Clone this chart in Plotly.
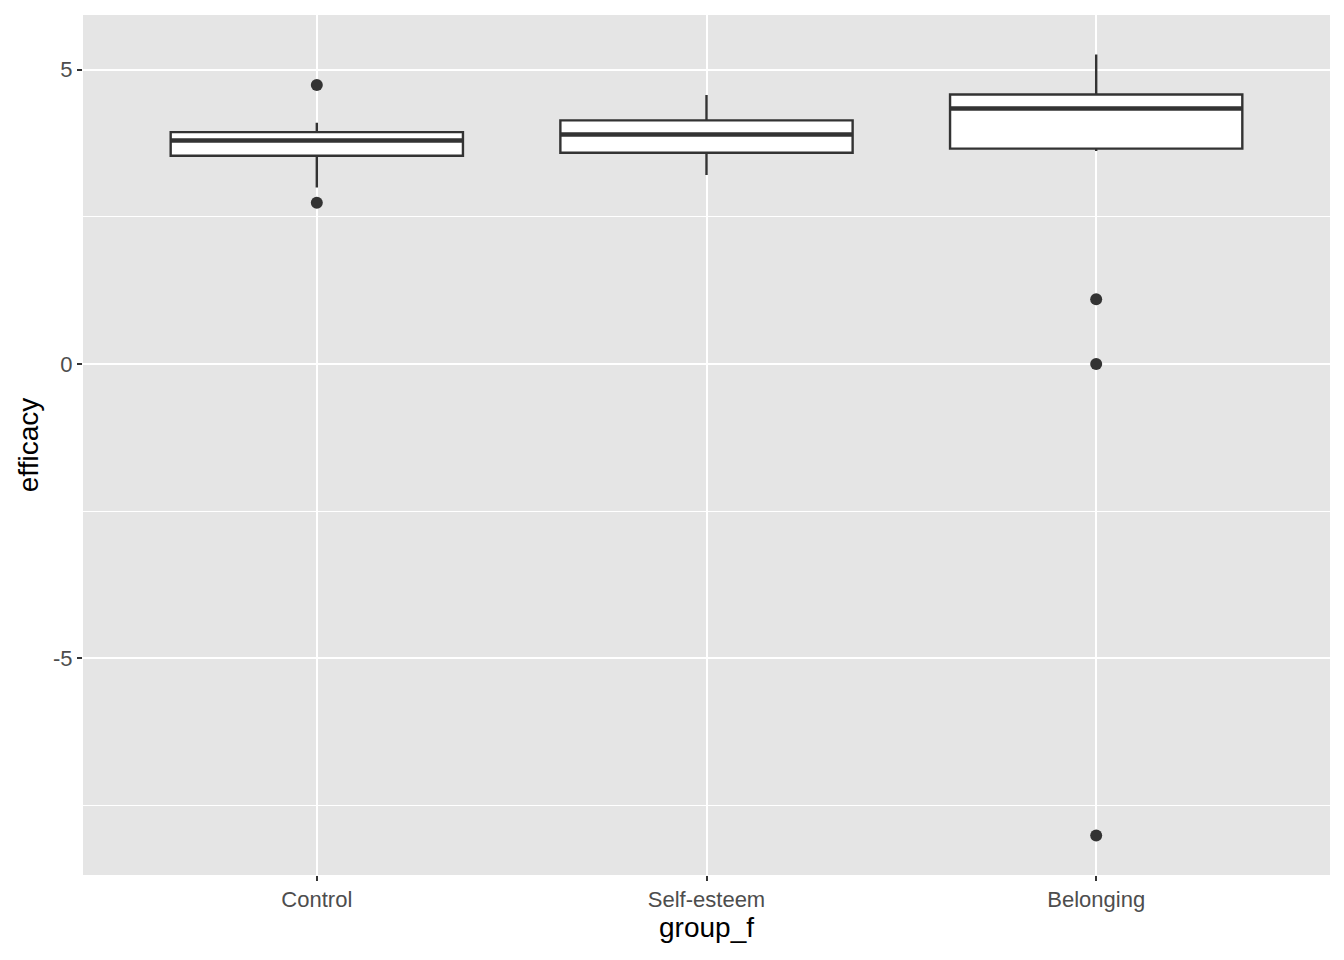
import plotly.graph_objects as go

groups = ["Control", "Self-esteem", "Belonging"]
q1 = [3.54, 3.59, 3.66]
median = [3.80, 3.90, 4.34]
q3 = [3.94, 4.14, 4.58]
lower = [3.00, 3.21, 3.62]
upper = [4.10, 4.57, 5.26]

out_x = ["Control", "Control", "Belonging", "Belonging", "Belonging"]
out_y = [4.74, 2.74, 1.10, 0.0, -8.01]

fig = go.Figure()

fig.add_trace(go.Box(
    x=groups, q1=q1, median=median, q3=q3,
    lowerfence=lower, upperfence=upper,
    width=0.75, whiskerwidth=0, fillcolor="white",
    line=dict(color="#333333", width=2.4),
    boxpoints=False, showlegend=False,
))
# thicker median bar, like ggplot's fatten
fig.add_trace(go.Box(
    x=groups, q1=median, median=median, q3=median,
    lowerfence=median, upperfence=median,
    width=0.75, whiskerwidth=0, fillcolor="rgba(0,0,0,0)",
    line=dict(color="#333333", width=4.5),
    boxpoints=False, showlegend=False, hoverinfo="skip",
))
fig.add_trace(go.Scatter(
    x=out_x, y=out_y, mode="markers",
    marker=dict(color="#333333", size=12),
    showlegend=False,
))

fig.update_layout(
    width=1328, height=944,
    paper_bgcolor="white", plot_bgcolor="#E5E5E5",
    margin=dict(l=75, r=6, t=7, b=77),
    font=dict(family="Liberation Sans, Arial, sans-serif"),
    boxmode="overlay",
)
fig.update_xaxes(
    type="category", range=[-0.6, 2.6],
    showgrid=True, gridcolor="white", gridwidth=2.4,
    zeroline=False, showline=False,
    ticks="outside", ticklen=5, tickwidth=2, tickcolor="#333333",
    tickfont=dict(size=22, color="#4D4D4D"),
    title=dict(text="group_f", font=dict(size=28, color="black"), standoff=4),
)
fig.update_yaxes(
    range=[-8.68, 5.93],
    tickvals=[-5, 0, 5], ticktext=["-5", "0", "5"],
    showgrid=True, gridcolor="white", gridwidth=2.4,
    minor=dict(tick0=2.5, dtick=5, showgrid=True, gridcolor="white", gridwidth=1.2),
    zeroline=False, showline=False,
    ticks="outside", ticklen=5, tickwidth=2, tickcolor="#333333",
    tickfont=dict(size=22, color="#4D4D4D"),
    title=dict(text="efficacy", font=dict(size=28, color="black"), standoff=6),
)

fig.write_html("out.html")
